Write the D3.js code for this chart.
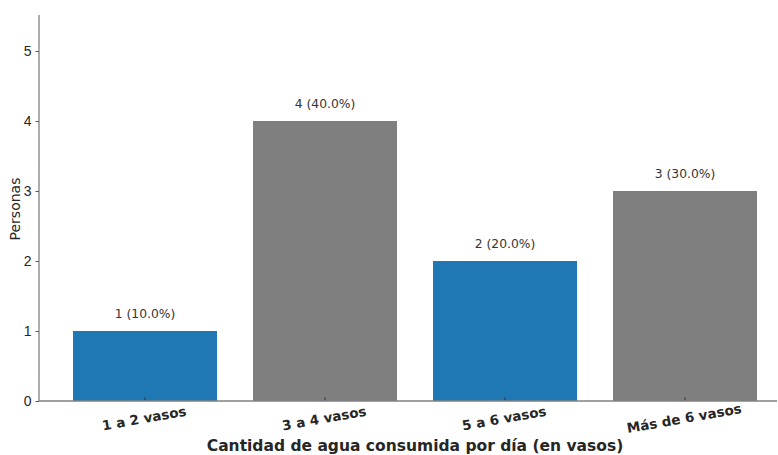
<!DOCTYPE html>
<html>
<head>
<meta charset="utf-8">
<script src="https://cdn.jsdelivr.net/npm/d3@7"></script>
<style>
  body { margin: 0; background: #fff; }
  svg { font-family: "DejaVu Sans", sans-serif; }
</style>
</head>
<body>
<svg id="chart" width="778" height="455"></svg>
<script>
const categories = ["1 a 2 vasos", "3 a 4 vasos", "5 a 6 vasos", "Más de 6 vasos"];
const counts = [1, 4, 2, 3];
const percents = [10.0, 40.0, 20.0, 30.0];
const barColors = ["#1f77b4", "#7f7f7f", "#1f77b4", "#7f7f7f"];
const yTicks = [0, 1, 2, 3, 4, 5];

const svg = d3.select("#chart");
const plotLeft = 39, plotRight = 777, plotTop = 15, plotBottom = 401;

const x = d3.scaleBand().domain(categories).range([55, 775])
  .paddingInner(0.2).paddingOuter(0.1);
const y = d3.scaleLinear().domain([0, 5.5]).range([plotBottom, plotBottom - 5.5 * 70]);

// bars
svg.selectAll("rect.bar")
  .data(categories)
  .enter()
  .append("rect")
  .attr("class", "bar")
  .attr("x", d => x(d))
  .attr("y", (d, i) => y(counts[i]))
  .attr("width", x.bandwidth())
  .attr("height", (d, i) => y(0) - y(counts[i]))
  .attr("fill", (d, i) => barColors[i]);

// value labels
svg.selectAll("text.val")
  .data(categories)
  .enter()
  .append("text")
  .attr("class", "val")
  .attr("x", d => x(d) + x.bandwidth() / 2)
  .attr("y", (d, i) => y(counts[i]) - 13)
  .attr("text-anchor", "middle")
  .style("font-size", "12.3px")
  .attr("fill", "#333")
  .text((d, i) => `${counts[i]} (${percents[i].toFixed(1)}%)`);

// y axis
const yAxis = svg.append("g")
  .attr("transform", `translate(${plotLeft},0)`)
  .call(d3.axisLeft(y).tickValues(yTicks).tickSize(3.5).tickPadding(4).tickFormat(d3.format("d")));
yAxis.select(".domain").remove();
yAxis.selectAll(".tick line").attr("stroke", "#555");
yAxis.selectAll("text").style("font-size", "14px").attr("fill", "#262626");

// x axis ticks (drawn inward over the bars)
const xAxis = svg.append("g")
  .attr("transform", `translate(0,${plotBottom})`)
  .call(d3.axisBottom(x).tickSize(-3.5).tickFormat(""));
xAxis.select(".domain").remove();
xAxis.selectAll(".tick line").attr("stroke", "#333");

// spines
svg.append("line").attr("x1", plotLeft).attr("x2", plotLeft).attr("y1", plotTop).attr("y2", plotBottom)
  .attr("stroke", "#808080").attr("stroke-width", 1.3);
svg.append("line").attr("x1", plotLeft).attr("x2", plotRight).attr("y1", plotBottom).attr("y2", plotBottom)
  .attr("stroke", "#808080").attr("stroke-width", 1.3);

// x tick labels, rotated
svg.selectAll("text.xlab")
  .data(categories)
  .enter()
  .append("text")
  .attr("class", "xlab")
  .attr("transform", d => `translate(${x(d) + x.bandwidth() / 2},${plotBottom + 22}) rotate(-10)`)
  .attr("text-anchor", "middle")
  .style("font-size", "13.5px")
  .style("font-weight", "bold")
  .attr("fill", "#262626")
  .text(d => d);

// axis titles
svg.append("text")
  .attr("x", 415).attr("y", 451)
  .attr("text-anchor", "middle")
  .style("font-size", "15.5px")
  .style("font-weight", "bold")
  .attr("fill", "#262626")
  .text("Cantidad de agua consumida por día (en vasos)");

svg.append("text")
  .attr("transform", `translate(20,${(plotTop + plotBottom) / 2 + 1}) rotate(-90)`)
  .attr("text-anchor", "middle")
  .style("font-size", "14px")
  .attr("fill", "#262626")
  .text("Personas");
</script>
</body>
</html>
